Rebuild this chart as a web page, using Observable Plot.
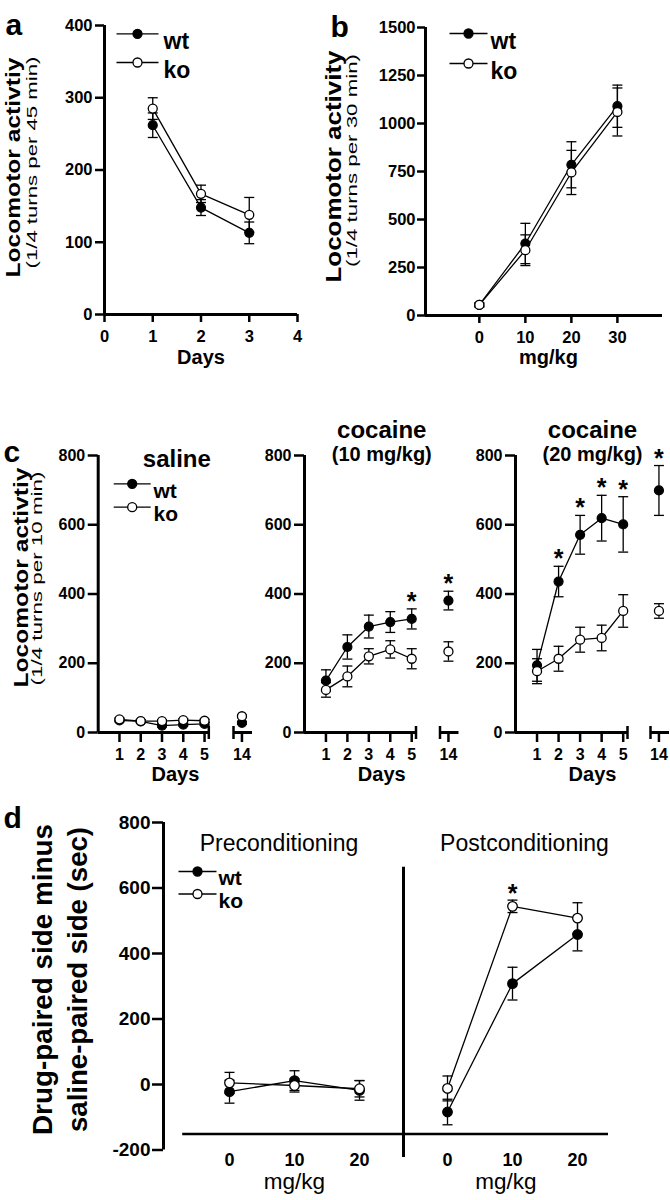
<!DOCTYPE html>
<html>
<head>
<meta charset="utf-8">
<script src="https://cdn.jsdelivr.net/npm/d3@7"></script>
<script src="https://cdn.jsdelivr.net/npm/@observablehq/plot@0.6"></script>
<style>
  html, body { margin: 0; padding: 0; background: #fff; }
  #fig { position: relative; width: 670px; height: 1200px; overflow: hidden; background: #fff; }
  #fig svg { position: absolute; left: 0; top: 0; }
</style>
</head>
<body>
<div id="fig"></div>
<script>
// ---------------- DATA ----------------
const series = ["wt", "ko"];

// Panel a: habituation, days
const aDays = [1, 2, 3];
const aWt = [262, 148, 113];
const aWtErr = [17, 11, 15];
const aKo = [285, 167, 138];
const aKoErr = [15, 12, 24];
const aYTicks = [0, 100, 200, 300, 400];
const aXTicks = [0, 1, 2, 3, 4];

// Panel b: dose response, mg/kg
const bDoses = [0, 10, 20, 30];
const bWt = [55, 375, 785, 1090];
const bWtErr = [10, 105, 120, 110];
const bKo = [55, 340, 745, 1060];
const bKoErr = [10, 80, 115, 125];
const bYTicks = [0, 250, 500, 750, 1000, 1250, 1500];
const bXTicks = [0, 10, 20, 30];

// Panel c: days 1-5 and 14
const cDays = [1, 2, 3, 4, 5, 14];
const salWt = [35, 32, 20, 23, 25, 28];
const salWtErr = [4, 4, 4, 4, 4, 4];
const salKo = [38, 33, 33, 36, 34, 47];
const salKoErr = [4, 4, 4, 4, 4, 4];
const coc10Wt = [150, 247, 306, 319, 328, 381];
const coc10WtErr = [31, 35, 33, 30, 29, 27];
const coc10Ko = [123, 162, 220, 240, 213, 234];
const coc10KoErr = [21, 30, 22, 25, 29, 28];
const coc20Wt = [194, 436, 571, 619, 601, 699];
const coc20WtErr = [46, 44, 56, 66, 80, 72];
const coc20Ko = [177, 213, 268, 273, 351, 351];
const coc20KoErr = [36, 36, 36, 37, 47, 21];
const salStars = [];
const coc10Stars = [5, 14];
const coc20Stars = [2, 3, 4, 5, 14];
const cYTicks = [0, 200, 400, 600, 800];
const cXTicksEarly = [1, 2, 3, 4, 5];
const cXTicksLate = [14];

// Panel d: place preference
const dDoses = [0, 10, 20];
const preWt = [-22, 12, -18];
const preWtErr = [35, 30, 30];
const preKo = [5, -3, -13];
const preKoErr = [32, 20, 25];
const postWt = [-84, 308, 458];
const postWtErr = [39, 50, 50];
const postKo = [-12, 544, 508];
const postKoErr = [38, 19, 47];
const postStars = [10];
const dYTicks = [-200, 0, 200, 400, 600, 800];
const dXTicks = [0, 10, 20];

// ---------------- LAYOUT / STYLE ----------------
const W = 670, H = 1200;
const FONT = "'Liberation Sans', Arial, Helvetica, sans-serif";
const cEarlyDomain = [0, 5.2];   // broken axis, first segment
const cLateDomain = [13.6, 14.5]; // broken axis, second segment
const hline = {draw(ctx, size) { const r = Math.sqrt(size / Math.PI); ctx.moveTo(-r, 0); ctx.lineTo(r, 0); }};
const vline = {draw(ctx, size) { const r = Math.sqrt(size / Math.PI); ctx.moveTo(0, -r); ctx.lineTo(0, r); }};
const fig = document.getElementById("fig");

const lengths = {
  "Locomotor activtiy": 220,
  "Locomotor activity": 232,
  "(1/4 turns per 45 min)": 212,
  "(1/4 turns per 30 min)": 213,
  "(1/4 turns per 10 min)": 214,
  "Drug-paired side minus": 311,
  "saline-paired side (sec)": 305
};

function rows(xs, wt, wtErr, ko, koErr) {
  return xs.flatMap((x, i) => [
    {series: "wt", x, v: wt[i], e: wtErr[i]},
    {series: "ko", x, v: ko[i], e: koErr[i]}
  ]);
}

function seriesMarks(data, {lines = true, dotR = 4.5, capR = 5} = {}) {
  const caps = data.flatMap(d => [{...d, cy: d.v - d.e}, {...d, cy: d.v + d.e}]);
  return [
    ...(lines ? [Plot.line(data, {x: "x", y: "v", z: "series", stroke: "black", strokeWidth: 1.3})] : []),
    Plot.ruleX(data, {x: "x", y1: d => d.v - d.e, y2: d => d.v + d.e, stroke: "black", strokeWidth: 1.3}),
    Plot.dot(caps, {x: "x", y: "cy", symbol: hline, r: capR, stroke: "black", strokeWidth: 1.3, fill: "none"}),
    Plot.dot(data.filter(d => d.series === "wt"), {x: "x", y: "v", r: dotR, fill: "black", stroke: "black", strokeWidth: 1.2}),
    Plot.dot(data.filter(d => d.series === "ko"), {x: "x", y: "v", r: dotR, fill: "white", stroke: "black", strokeWidth: 1.3})
  ];
}

function starMarks(xs, data, dy = -7) {
  const st = xs.map(x => ({x, top: d3.max(data.filter(d => d.x === x), d => d.v + d.e)}));
  return Plot.text(st, {x: "x", y: "top", text: () => "*", dy, fontSize: 25, fontWeight: "bold"});
}

function legendMarks(o) {
  const fs = o.fontSize || 23;
  return series.flatMap((s, i) => {
    const dy = o.dy + i * o.gap;
    return [
      Plot.dot([s], {frameAnchor: "top-left", dx: o.dx, dy, symbol: hline, r: o.half, stroke: "black", strokeWidth: 1.3, fill: "none"}),
      Plot.dot([s], {frameAnchor: "top-left", dx: o.dx, dy, r: 4.5, fill: s === "wt" ? "black" : "white", stroke: "black", strokeWidth: 1.3}),
      Plot.text([s], {frameAnchor: "top-left", dx: o.textDx, dy: dy - 1, text: d => d, textAnchor: "start", fontSize: fs, fontWeight: "bold"})
    ];
  });
}

function rotLabel(text, dx, dy, size, weight = "bold") {
  return Plot.text([text], {frameAnchor: "left", dx, dy, rotate: -90, text: d => d, fontSize: size, fontWeight: weight});
}

function letter(text, dx, dy) {
  return Plot.text([text], {frameAnchor: "top-left", dx, dy, text: d => d, textAnchor: "start", fontSize: 30, fontWeight: "bold"});
}

function yAxis(ticks, tickSize, tickPadding, fontSize) {
  return Plot.axisY({ticks, tickSize, tickPadding, fontSize, fontWeight: "bold", strokeWidth: 2.5, tickFormat: d => String(d), label: null});
}
function xAxis(ticks, tickSize, tickPadding, fontSize) {
  return Plot.axisX({ticks, tickSize, tickPadding, fontSize, fontWeight: "bold", strokeWidth: 2.5, tickFormat: d => String(d), label: null});
}

function panel({left, right, top, bottom, x, y, marks}) {
  const svg = Plot.plot({
    width: W, height: H,
    marginLeft: left, marginRight: W - right, marginTop: top, marginBottom: H - bottom,
    x, y,
    style: {fontFamily: FONT, fontSize: "16px", color: "black", background: "transparent", overflow: "visible"},
    marks
  });
  // stretched rotated labels: fixed length, centred manually
  svg.querySelectorAll("text").forEach(t => {
    const L = lengths[t.textContent];
    if (L) {
      t.setAttribute("textLength", L);
      t.setAttribute("lengthAdjust", "spacingAndGlyphs");
      t.setAttribute("text-anchor", "start");
      t.setAttribute("x", -L / 2);
    }
  });
  fig.appendChild(svg);
  return svg;
}

// ---------------- PANEL a ----------------
const aData = rows(aDays, aWt, aWtErr, aKo, aKoErr);
panel({
  left: 104, right: 297, top: 25, bottom: 314,
  x: {domain: [0, 4]}, y: {domain: [0, 400]},
  marks: [
    Plot.ruleX([0], {strokeWidth: 3}),
    Plot.ruleY([0], {strokeWidth: 3}),
    yAxis(aYTicks, 9, 3, 16.5),
    xAxis(aXTicks, 8, 8, 16.5),
    ...seriesMarks(aData),
    ...legendMarks({dx: 33, dy: 8.3, gap: 28.7, half: 21, textDx: 59}),
    Plot.text(["Days"], {frameAnchor: "bottom", dy: 49.5, fontSize: 20, fontWeight: "bold"}),
    rotLabel("Locomotor activtiy", -91.5, -2.5, 21),
    rotLabel("(1/4 turns per 45 min)", -72, -7.5, 14.5, "normal"),
    letter("a", -99, -11.6)
  ]
});

// ---------------- PANEL b ----------------
const bData = rows(bDoses, bWt, bWtErr, bKo, bKoErr);
const bXDomain = [-11.7, 39.8];
panel({
  left: 425, right: 662, top: 27, bottom: 315,
  x: {domain: bXDomain}, y: {domain: [0, 1500]},
  marks: [
    Plot.ruleX([bXDomain[0]], {strokeWidth: 3}),
    Plot.ruleY([0], {strokeWidth: 3}),
    yAxis(bYTicks, 8, 2, 16.5),
    xAxis(bXTicks, 8, 8, 16.5),
    ...seriesMarks(bData),
    ...legendMarks({dx: 43, dy: 6, gap: 30, half: 19, textDx: 65}),
    Plot.text(["mg/kg"], {frameAnchor: "bottom", dx: 4.5, dy: 48.5, fontSize: 20, fontWeight: "bold"}),
    rotLabel("Locomotor activity", -92, -5, 22),
    rotLabel("(1/4 turns per 30 min)", -73, -11, 14.5, "normal"),
    letter("b", -95, -11.6)
  ]
});

// ---------------- PANEL c ----------------
// pos = [axis x, end of first segment, start of day-14 segment, end of day-14 segment]
function cPanel(pos, data, stars, extra) {
  const shift = (pos[3] - pos[1]) / 2; // centre texts on the whole sub-panel
  const early = data.filter(d => d.x <= cEarlyDomain[1]);
  const late = data.filter(d => d.x >= cLateDomain[0]);
  panel({
    left: pos[0], right: pos[1], top: 455, bottom: 732,
    x: {domain: cEarlyDomain}, y: {domain: [0, 800]},
    marks: [
      Plot.ruleX([cEarlyDomain[0]], {strokeWidth: 3}),
      Plot.ruleY([0], {strokeWidth: 3}),
      Plot.dot([cEarlyDomain[1]], {x: d => d, y: () => 0, symbol: vline, r: 6.5, stroke: "black", strokeWidth: 2.5, fill: "none"}),
      yAxis(cYTicks, 10, 3, 16),
      xAxis(cXTicksEarly, 10, 6, 16),
      ...seriesMarks(early),
      starMarks(stars.filter(s => s <= cEarlyDomain[1]), early),
      Plot.text(["Days"], {frameAnchor: "bottom", dx: shift, dy: 48, fontSize: 20, fontWeight: "bold"}),
      ...extra(shift)
    ]
  });
  panel({
    left: pos[2], right: pos[3], top: 455, bottom: 732,
    x: {domain: cLateDomain}, y: {domain: [0, 800], axis: null},
    marks: [
      Plot.ruleY([0], {strokeWidth: 3}),
      Plot.dot([cLateDomain[0]], {x: d => d, y: () => 0, symbol: vline, r: 6.5, stroke: "black", strokeWidth: 2.5, fill: "none"}),
      xAxis(cXTicksLate, 10, 6, 16),
      ...seriesMarks(late, {lines: false}),
      starMarks(stars.filter(s => s >= cLateDomain[0]), late)
    ]
  });
}

cPanel([97.7, 208.3, 233, 252], rows(cDays, salWt, salWtErr, salKo, salKoErr), salStars, shift => [
  Plot.text(["saline"], {frameAnchor: "top", dx: shift + 1.5, dy: -5.7, fontSize: 24, fontWeight: "bold"}),
  ...legendMarks({dx: 34, dy: 28.3, gap: 23.4, half: 18.5, textDx: 55.3, fontSize: 21}),
  rotLabel("Locomotor activtiy", -76.7, -16.5, 21),
  rotLabel("(1/4 turns per 10 min)", -60.7, -15.5, 14.5, "normal"),
  letter("c", -94.7, -14.6)
]);

cPanel([304, 415.5, 439.5, 458.5], rows(cDays, coc10Wt, coc10WtErr, coc10Ko, coc10KoErr), coc10Stars, shift => [
  Plot.text(["cocaine"], {frameAnchor: "top", dx: shift, dy: -34.6, fontSize: 24, fontWeight: "bold"}),
  Plot.text(["(10 mg/kg)"], {frameAnchor: "top", dx: shift, dy: -8.4, fontSize: 20, fontWeight: "bold"})
]);

cPanel([515, 627, 650, 669], rows(cDays, coc20Wt, coc20WtErr, coc20Ko, coc20KoErr), coc20Stars, shift => [
  Plot.text(["cocaine"], {frameAnchor: "top", dx: shift, dy: -34.6, fontSize: 24, fontWeight: "bold"}),
  Plot.text(["(20 mg/kg)"], {frameAnchor: "top", dx: shift, dy: -8.4, fontSize: 20, fontWeight: "bold"})
]);

// ---------------- PANEL d ----------------
const dLineY = -151;
const preXDomain = [-10.154, 26.769];
const postXDomain = [-6.769, 24.769];
const preData = rows(dDoses, preWt, preWtErr, preKo, preKoErr);
const postData = rows(dDoses, postWt, postWtErr, postKo, postKoErr);

panel({
  left: 163, right: 403, top: 822, bottom: 1149.5,
  x: {domain: preXDomain}, y: {domain: [-200, 800]},
  marks: [
    Plot.ruleX([preXDomain[0]], {strokeWidth: 3}),
    Plot.ruleY([dLineY], {x1: () => -7.2, x2: () => preXDomain[1], strokeWidth: 2.5}),
    yAxis(dYTicks, 11, 2, 19),
    xAxis(dXTicks, 0, 3, 18),
    ...seriesMarks(preData, {dotR: 4.8}),
    ...legendMarks({dx: 34, dy: 49, gap: 22.5, half: 19, textDx: 55, fontSize: 21}),
    Plot.text(["Preconditioning"], {frameAnchor: "top", dx: -4.5, dy: 12, fontSize: 23, fontWeight: "normal"}),
    Plot.text(["mg/kg"], {frameAnchor: "bottom", dx: 11, dy: 39, fontSize: 22.5, fontWeight: "normal"}),
    rotLabel("Drug-paired side minus", -120, -6.75, 27),
    rotLabel("saline-paired side (sec)", -85, -6.75, 27),
    letter("d", -160, -15.6)
  ]
});

panel({
  left: 403, right: 608, top: 822, bottom: 1149.5,
  x: {domain: postXDomain}, y: {domain: [-200, 800], axis: null},
  marks: [
    Plot.ruleX([postXDomain[0]], {y1: () => -223, y2: () => 663, strokeWidth: 3}),
    Plot.ruleY([dLineY], {strokeWidth: 2.5}),
    xAxis(dXTicks, 0, 3, 18),
    ...seriesMarks(postData, {dotR: 4.8}),
    starMarks(postStars, postData, -6.5),
    Plot.text(["Postconditioning"], {frameAnchor: "top", dx: 18.5, dy: 12, fontSize: 23, fontWeight: "normal"}),
    Plot.text(["mg/kg"], {frameAnchor: "bottom", dx: 0, dy: 39, fontSize: 22.5, fontWeight: "normal"})
  ]
});
</script>
</body>
</html>
